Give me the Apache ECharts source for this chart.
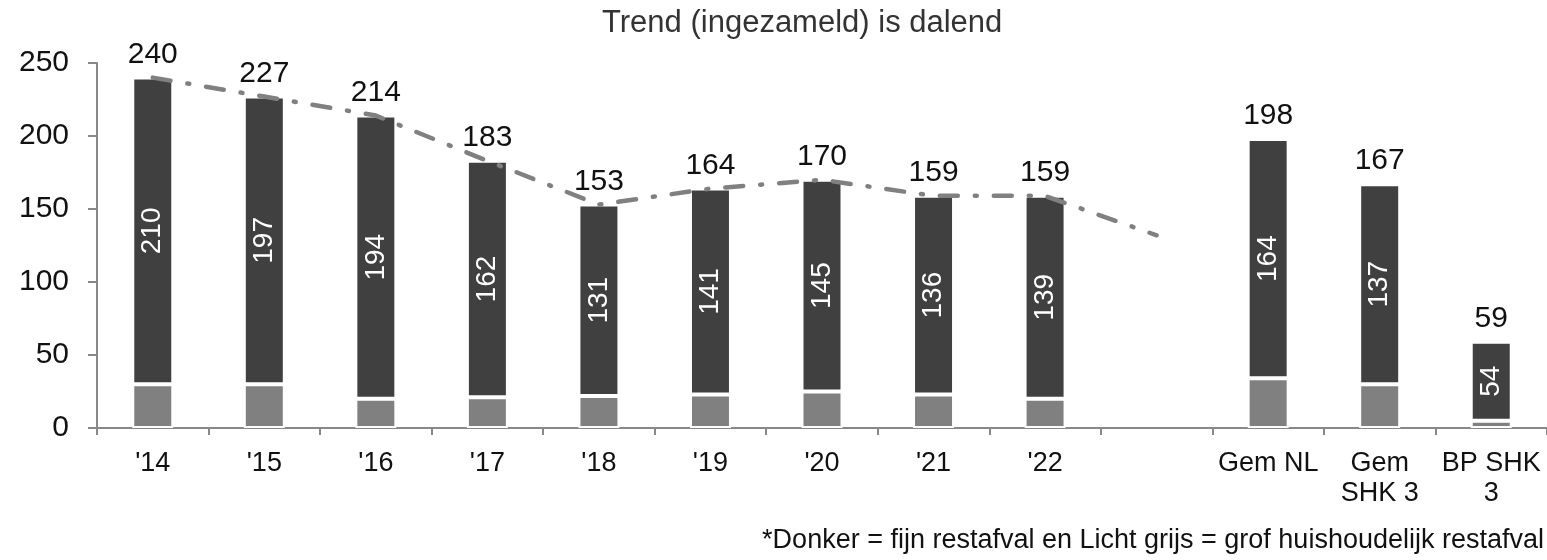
<!DOCTYPE html>
<html lang="nl">
<head>
    <meta charset="UTF-8">
    <title>Restafval</title>
    <script src="https://cdn.jsdelivr.net/npm/echarts@6/dist/echarts.min.js"></script>
</head>
<body style="margin:0;background:#fff;">
    <div id="main" style="width:1547px;height:560px;"></div>
<script type="text/javascript">
    // categorieen (lege plek tussen '22 en Gem NL)
    var categories = ["'14", "'15", "'16", "'17", "'18", "'19", "'20", "'21", "'22", "", "Gem NL", "Gem\nSHK 3", "BP SHK\n3"];
    // fijn restafval (donker)
    var fijn = [210, 197, 194, 162, 131, 141, 145, 136, 139, '-', 164, 137, 54];
    // grof huishoudelijk restafval (licht grijs)
    var grof = [30, 30, 20, 21, 22, 23, 25, 23, 20, '-', 34, 30, 5];
    // totaal boven de staaf
    var totaal = [240, 227, 214, 183, 153, 164, 170, 159, 159, '-', 198, 167, 59];
    // trendlijn
    var trend = [240, 227, 214, 183, 153, 164, 170, 159, 159, 132, '-', '-', '-'];

    var myChart = echarts.init(document.getElementById('main'));
    var font = '"Liberation Sans", Arial, sans-serif';

    var option = {
        animation: false,
        textStyle: { fontFamily: font },
        title: {
            text: 'Trend (ingezameld) is dalend',
            left: 597,
            top: 3,
            textStyle: { fontSize: 31, fontWeight: 'normal', color: '#333', fontFamily: font }
        },
        graphic: [{
            type: 'text',
            right: 3,
            top: 527,
            style: {
                text: '*Donker = fijn restafval en Licht grijs = grof huishoudelijk restafval',
                fontSize: 27, fill: '#111', fontFamily: font
            }
        }],
        grid: { left: 97, right: 0, top: 63, bottom: 132 },
        xAxis: {
            type: 'category',
            data: categories,
            axisLine: { lineStyle: { color: '#888', width: 2 } },
            axisTick: { show: true, alignWithLabel: false, length: 7, lineStyle: { color: '#888', width: 2 } },
            axisLabel: { fontSize: 27, color: '#111', margin: 21, lineHeight: 30, interval: 0 }
        },
        yAxis: {
            type: 'value',
            min: 0,
            max: 250,
            interval: 50,
            splitLine: { show: false },
            axisLine: { show: true, lineStyle: { color: '#888', width: 2 } },
            axisTick: { show: true, length: 9, lineStyle: { color: '#888', width: 2 } },
            axisLabel: { fontSize: 30, color: '#111', margin: 28 }
        },
        series: [
            {
                name: 'grof',
                type: 'bar',
                stack: 'afval',
                data: grof,
                barWidth: 41,
                itemStyle: { color: '#808080', borderColor: '#fff', borderWidth: 2 }
            },
            {
                name: 'fijn',
                type: 'bar',
                stack: 'afval',
                data: fijn,
                barWidth: 41,
                itemStyle: { color: '#404040', borderColor: '#fff', borderWidth: 2 },
                label: {
                    show: true,
                    position: 'inside',
                    rotate: 90,
                    color: '#fff',
                    fontSize: 28
                }
            },
            {
                name: 'totaal',
                type: 'bar',
                data: totaal,
                barWidth: 41,
                barGap: '-100%',
                z: 1,
                itemStyle: { color: 'rgba(0,0,0,0)' },
                label: {
                    show: true,
                    position: 'top',
                    distance: 8,
                    color: '#111',
                    fontSize: 30
                }
            },
            {
                name: 'trend',
                type: 'line',
                data: trend,
                symbol: 'none',
                z: 5,
                lineStyle: { color: '#808080', width: 4.5, type: [18, 17, 2, 17], cap: 'round' }
            }
        ]
    };

    myChart.setOption(option);
</script>
</body>
</html>
